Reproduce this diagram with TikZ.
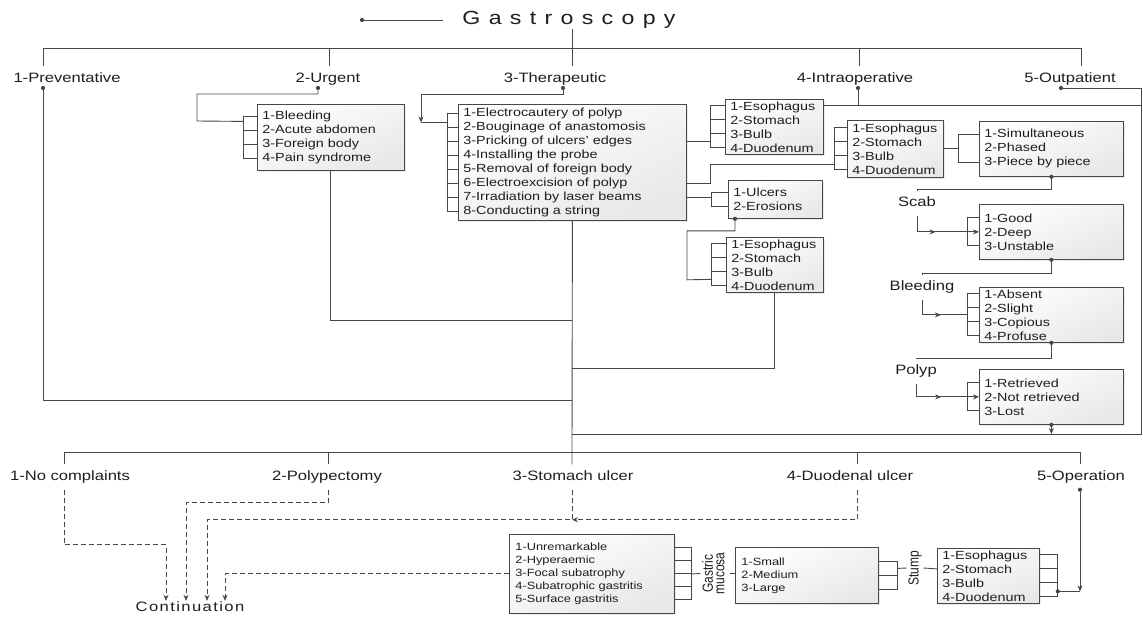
\documentclass[tikz,border=0pt]{standalone}
\usepackage{fontspec}
\usepackage{graphicx}
\setmainfont{Liberation Sans}[FakeStretch=1.22]
\newfontfamily\plainsf{Liberation Sans}
\usetikzlibrary{calc,shadows,arrows.meta,decorations.markings}
\definecolor{ink}{HTML}{1E1E1E}
\definecolor{wire}{HTML}{474747}

% bracket on the left / right side of a list box: node, offset, first, last, tick offsets
\newcommand\brackL[5]{%
  \draw[conn] ($(#1.west)+(-#2,#3)$) -- ($(#1.west)+(-#2,#4)$);
  \foreach \o in {#5}{\draw[conn] ($(#1.west)+(-#2,\o)$) -- ($(#1.west)+(0,\o)$);}%
}
\newcommand\brackR[5]{%
  \draw[conn] ($(#1.east)+(#2,#3)$) -- ($(#1.east)+(#2,#4)$);
  \foreach \o in {#5}{\draw[conn] ($(#1.east)+(#2,\o)$) -- ($(#1.east)+(0,\o)$);}%
}

\begin{document}
\begin{tikzpicture}[x=1pt,y=-1pt,
  conn/.style={draw=wire,line width=0.9pt},
  dashconn/.style={conn,dash pattern=on 5pt off 3pt},
  endarrow/.style={-{Stealth[length=6pt,width=5pt]}},
  midarrow/.style={postaction={decorate},decoration={markings,mark=at position #1 with {\arrow[wire]{Stealth[length=6pt,width=5pt]}}}},
  jdot/.style={circle,fill=wire,inner sep=0pt,minimum size=4.2pt},
  lbl/.style={font=\fontsize{13.6}{16}\selectfont,text=ink,text height=10pt,text depth=3pt,inner xsep=2pt,inner ysep=6pt},
  listbox/.style n args={3}{draw=wire,line width=0.8pt,top color=white,bottom color=black!9,shading angle=25,
    drop shadow={shadow xshift=1.6pt,shadow yshift=-1.6pt,fill=black!16},
    anchor=north west,minimum width=#1,minimum height=#2,text width=#3,
    inner xsep=5pt,inner ysep=0pt,align=left,text=ink,font=\fontsize{11.8}{14}\selectfont},
  smallfont/.style={font=\fontsize{10.5}{13}\selectfont,inner xsep=6pt},
  vlabel/.style={text=ink,inner sep=1.5pt,font=\fontsize{12}{9.5}\plainsf}
]
\fill[white] (0,0) rectangle (1143,616);
\useasboundingbox (0,0) rectangle (1143,616);

% ---------- title and first level ----------
\node[font=\fontsize{19}{22}\selectfont,text=ink,inner sep=0pt] (title) at (569,20)
  {G\kern8.3pt a\kern8.3pt s\kern8.3pt t\kern8.3pt r\kern8.3pt o\kern8.3pt s\kern8.3pt c\kern8.3pt o\kern8.3pt p\kern8.3pt y};
\node[jdot] (tdot) at (362,20) {};
\coordinate (tend) at (443,20);
\draw[conn] (tdot) -- (tend);

\node[lbl] (P1) at (67,79) {1-Preventative};
\node[lbl] (P2) at (328,79) {2-Urgent};
\node[lbl] (P3) at (555,79) {3-Therapeutic};
\node[lbl] (P4) at (855,79) {4-Intraoperative};
\node[lbl] (P5) at (1070,79) {5-Outpatient};

\coordinate (b1) at (43,48);
\coordinate (b2) at (329,48);
\coordinate (b3) at (572,48);
\coordinate (b4) at (859,48);
\coordinate (b5) at (1081,48);
\draw[conn] (title.south -| b3) -- (b3);
\draw[conn] (P1.north -| b1) -- (b1) -- (b5) -- (P5.north -| b5);
\draw[conn] (b2) -- (b2 |- P2.north);
\draw[conn] (b3) -- (b3 |- P3.north);
\draw[conn] (b4) -- (b4 |- P4.north);

\node[jdot] (d1) at (43,88) {};
\node[jdot] (d2) at (318,88) {};
\node[jdot] (d3) at (563,88) {};
\node[jdot] (d4) at (858,88) {};
\node[jdot] (d5) at (1061,88) {};

% ---------- list boxes ----------
\node[listbox={147pt}{66pt}{137pt}] (UR) at (257,104)
  {1-Bleeding\\2-Acute abdomen\\3-Foreign body\\4-Pain syndrome};
\node[listbox={228pt}{116pt}{218pt}] (TH) at (458,104)
  {1-Electrocautery of polyp\\2-Bouginage of anastomosis\\3-Pricking of ulcers' edges\\4-Installing the probe\\5-Removal of foreign body\\6-Electroexcision of polyp\\7-Irradiation by laser beams\\8-Conducting a string};
\node[listbox={98pt}{55pt}{88pt}] (E1) at (725,99)
  {1-Esophagus\\2-Stomach\\3-Bulb\\4-Duodenum};
\node[listbox={96pt}{57pt}{86pt}] (E2) at (847,120)
  {1-Esophagus\\2-Stomach\\3-Bulb\\4-Duodenum};
\node[listbox={94pt}{38pt}{84pt}] (UL) at (728,180)
  {1-Ulcers\\2-Erosions};
\node[listbox={97pt}{55pt}{87pt}] (E3) at (726,237)
  {1-Esophagus\\2-Stomach\\3-Bulb\\4-Duodenum};
\node[listbox={144pt}{55pt}{134pt}] (SI) at (979,121)
  {1-Simultaneous\\2-Phased\\3-Piece by piece};
\node[listbox={144pt}{55pt}{134pt}] (GO) at (979,204)
  {1-Good\\2-Deep\\3-Unstable};
\node[listbox={144pt}{55pt}{134pt}] (AB) at (979,287)
  {1-Absent\\2-Slight\\3-Copious\\4-Profuse};
\node[listbox={144pt}{55pt}{134pt}] (RE) at (979,369)
  {1-Retrieved\\2-Not retrieved\\3-Lost};

% ---------- upper connectors ----------
% urgent
\draw[conn] (d2) -- ++(0,6) -| ++(-121,27) -- ($(UR.west)+(-14,-16)$);
\brackL{UR}{14}{-21}{21}{-21,-7,7,21}
\coordinate (j1) at (572,320);
\draw[conn] (UR.south) |- (j1);
% therapeutic
\coordinate (t3) at ($(TH.west)+(-37,-40)$);
\draw[conn,endarrow] (d3) -- ++(0,6) -| (t3);
\draw[conn] (t3) -- ($(TH.west)+(-11,-40)$);
\brackL{TH}{11}{-49}{49}{-49,-35,-21,-7,7,21,35,49}
\draw[conn] ($(TH.east)+(0,-21)$) -- ($(E1.west)+(-15,14.5)$);
\brackL{E1}{15}{-21}{21}{-21,-7,7,21}
\draw[conn] ($(TH.east)+(0,21)$) -- ++(24,0) |- ($(E2.west)+(-13,15.5)$);
\brackL{E2}{13}{-21}{21}{-21,-7,7,21}
\draw[conn] ($(TH.east)+(0,35)$) -- ($(UL.west)+(-17,-2)$);
\brackL{UL}{17}{-7}{7}{-7,7}
\node[jdot] (dul) at ($(UL.south west)+(7,0)$) {};
\draw[conn] (dul) -- ++(0,12) -| ++(-48,49) -- ($(E3.west)+(-15,14.5)$);
\brackL{E3}{15}{-21}{21}{-21,-7,7,21}
\coordinate (j2) at (572,368);
\draw[conn] (E3.south) |- (j2);
\coordinate (j3) at (572,400);
\draw[conn] (d1) |- (j3);

% intraoperative / outpatient frame
\coordinate (e1a) at ($(E1.east)+(0,-21)$);
\coordinate (ftr) at (1141,88);
\coordinate (fbr) at (1141,434);
\coordinate (fbl) at (572,434);
\draw[conn] (e1a) -- (e1a -| ftr);
\draw[conn] (d4) -- (d4 |- e1a);
\draw[conn] (d5) -- (ftr) -- (fbr) -- (fbl);

% intraoperative chain
\draw[conn] (E2.east) -- ($(SI.west)+(-21,0)$);
\brackL{SI}{21}{-14}{14}{-14,14}

\node[lbl] (scab) at (917,203) {Scab};
\node[jdot] (dsi) at (SI.south) {};
\draw[conn] (dsi) -- ++(0,13) -| (scab.north);
\coordinate (sc) at (scab.south |- GO.west);
\draw[conn] (scab.south) -- (sc);
\draw[conn,endarrow,midarrow=0.3] (sc) -- (GO.west);
\brackL{GO}{12}{-14}{14}{-14,14}

\node[lbl] (bleed) at (922,287) {Bleeding};
\node[jdot] (dgo) at (GO.south) {};
\draw[conn] (dgo) -- ++(0,14) -| (bleed.north);
\coordinate (bl) at (bleed.south |- AB.west);
\draw[conn] (bleed.south) -- (bl);
\draw[conn,midarrow=0.42] (bl) -- ($(AB.west)+(-12,0)$);
\brackL{AB}{12}{-21}{21}{-21,-7,7,21}

\node[lbl] (polyp) at (916,371) {Polyp};
\node[jdot] (dab) at (AB.south) {};
\draw[conn] (dab) -- ++(0,16) -| (polyp.north);
\coordinate (pl) at (polyp.south |- RE.west);
\draw[conn] (polyp.south) -- (pl);
\draw[conn,endarrow,midarrow=0.4] (pl) -- (RE.west);
\brackL{RE}{12}{-14}{14}{-14,14}
\node[jdot] (dre) at (RE.south) {};
\draw[conn,endarrow] (dre) -- (dre |- fbl);

% ---------- outcomes ----------
\node[lbl] (R1) at (70,477) {1-No complaints};
\node[lbl] (R2) at (327,477) {2-Polypectomy};
\node[lbl] (R3) at (573,477) {3-Stomach ulcer};
\node[lbl] (R4) at (850,477) {4-Duodenal ulcer};
\node[lbl] (R5) at (1081,477) {5-Operation};

\coordinate (bb) at (572,452);
\coordinate (c1) at (64,452);
\coordinate (c2) at (328,452);
\coordinate (c4) at (857,452);
\coordinate (c5) at (1080,452);
\draw[conn] (TH.south) -- (bb) -- (bb |- R3.north);
\draw[conn] (R1.north -| c1) -- (c1) -- (c5) -- (R5.north -| c5);
\draw[conn] (c2) -- (c2 |- R2.north);
\draw[conn] (c4) -- (c4 |- R4.north);

\node[font=\fontsize{13.6}{16}\selectfont,text=ink,inner sep=1pt] (cont) at (190,607)
  {C\kern1.4pt o\kern1.4pt n\kern1.4pt t\kern1.4pt i\kern1.4pt n\kern1.4pt u\kern1.4pt a\kern1.4pt t\kern1.4pt i\kern1.4pt o\kern1.4pt n};
\coordinate (k1) at ($(cont.north)+(-24,0)$);
\coordinate (k2) at ($(cont.north)+(-4,0)$);
\coordinate (k3) at ($(cont.north)+(17,0)$);
\coordinate (k4) at ($(cont.north)+(35,0)$);

\node[listbox={165pt}{79pt}{153pt},smallfont] (UN) at (509,534)
  {1-Unremarkable\\2-Hyperaemic\\3-Focal subatrophy\\4-Subatrophic gastritis\\5-Surface gastritis};
\node[listbox={143pt}{56pt}{131pt},smallfont] (SM) at (735,547)
  {1-Small\\2-Medium\\3-Large};
\node[listbox={102pt}{55pt}{92pt}] (E4) at (937,548)
  {1-Esophagus\\2-Stomach\\3-Bulb\\4-Duodenum};

\draw[dashconn,endarrow] (c1 |- R1.south) -- ++(0,55) -| (k1);
\draw[dashconn,endarrow] (c2 |- R2.south) -- ++(0,13) -| (k2);
\coordinate (m3) at ($(bb |- R3.south)+(0,30)$);
\draw[dashconn,endarrow] (bb |- R3.south) -- (m3) -| (k3);
\draw[dashconn,endarrow] (c4 |- R4.south) |- (m3);
\draw[dashconn,endarrow] (UN.west) -| (k4);

\brackR{UN}{17}{-26}{26}{-26,-13,0,13,26}
\node[vlabel] (gm) at (715,573.5)
  {\scalebox{1.22}[1]{\rotatebox{90}{\begin{tabular}{@{}c@{}}Gastric\\mucosa\end{tabular}}}};
\draw[conn] ($(UN.east)+(17,0)$) -- (gm.west);
\draw[conn] (gm.east) -- (gm.east -| SM.west);
\brackR{SM}{19}{-14}{14}{-14,0,14}
\node[vlabel] (st) at (915,568) {\scalebox{1.22}[1]{\rotatebox{90}{Stump}}};
\draw[conn] ($(SM.east)+(19,-7)$) -- (st.west);
\draw[conn] (st.east) -- ($(E4.west)+(0,-7)$);
\brackR{E4}{18}{-21}{21}{-21,-7,7,21}
\node[jdot] (de4) at ($(E4.east)+(18,15.5)$) {};
\node[jdot] (dr5) at (c5 |- R5.south) {};
\coordinate (jo) at (dr5 |- de4);
\draw[conn,endarrow] (dr5) -- (jo);
\draw[conn] (de4) -- (jo);
\end{tikzpicture}
\end{document}
